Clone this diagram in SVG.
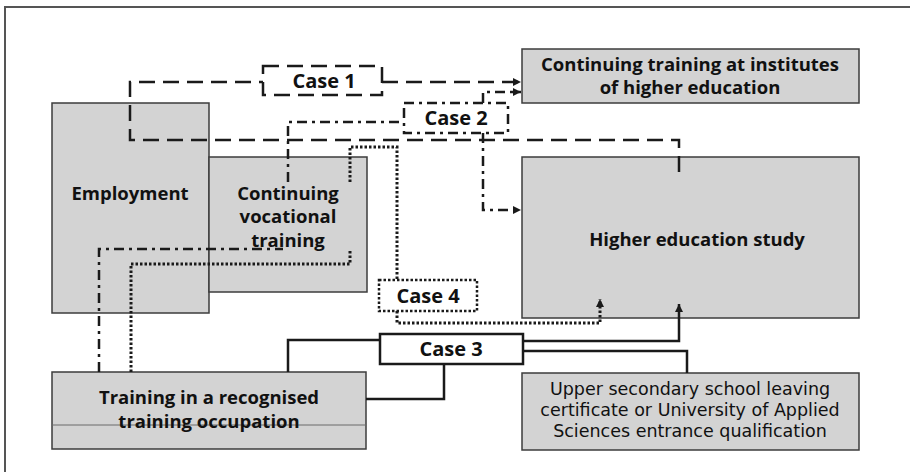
<svg xmlns="http://www.w3.org/2000/svg" width="910" height="472" viewBox="0 0 910 472">
  <style>
    .box { fill: #d3d3d3; stroke: #3c3c3c; stroke-width: 1.5; }
    .lbl { font-family: "Open Sans", "Noto Sans", "Liberation Sans", sans-serif; font-weight: bold; font-size: 18.5px; fill: #111; text-anchor: middle; }
    .reg { font-family: "DejaVu Sans", "Liberation Sans", sans-serif; font-size: 17.5px; fill: #111; text-anchor: middle; }
    .case { font-family: "Open Sans", "Noto Sans", "Liberation Sans", sans-serif; font-weight: bold; font-size: 20px; fill: #111; text-anchor: middle; }
    .ln { fill: none; stroke: #1a1a1a; stroke-width: 2.5; }
    .dash { stroke-dasharray: 16 8; }
    .dashdot { stroke-dasharray: 10 5 3 5; }
    .dot { stroke-dasharray: 2.5 2; stroke-width: 3; }
    .cbox { fill: #fff; stroke: #1a1a1a; stroke-width: 2.5; }
  </style>
  <defs>
    <marker id="arrow" markerUnits="userSpaceOnUse" markerWidth="9" markerHeight="8" refX="8" refY="4" orient="auto">
      <path d="M0,0 L8,4 L0,8 z" fill="#1a1a1a"/>
    </marker>
  </defs>

  <rect width="910" height="472" fill="#fff"/>
  <!-- frame -->
  <path d="M5,472 V7 H910" fill="none" stroke="#555" stroke-width="2"/>

  <!-- nodes -->
  <g id="employment">
    <rect class="box" x="52" y="103" width="157" height="210"/>
    <text class="lbl" x="130" y="200">Employment</text>
  </g>
  <g id="continuing-vocational">
    <rect class="box" x="209" y="157" width="158" height="135"/>
    <text class="lbl" x="288" y="200">Continuing</text>
    <text class="lbl" x="288" y="223">vocational</text>
    <text class="lbl" x="288" y="247">training</text>
  </g>
  <g id="continuing-higher">
    <rect class="box" x="522" y="49" width="337" height="54"/>
    <text class="lbl" x="690" y="71">Continuing training at institutes</text>
    <text class="lbl" x="690" y="94">of higher education</text>
  </g>
  <g id="higher-education">
    <rect class="box" x="522" y="157" width="337" height="161"/>
    <text class="lbl" x="697" y="246">Higher education study</text>
  </g>
  <g id="training-occupation">
    <rect class="box" x="52" y="372" width="314" height="77"/>
    <line x1="52" y1="425" x2="366" y2="425" stroke="#6a6a6a" stroke-width="1"/>
    <text class="lbl" x="209" y="404">Training in a recognised</text>
    <text class="lbl" x="209" y="428">training occupation</text>
  </g>
  <g id="school-leaving">
    <rect class="box" x="522" y="373" width="337" height="77"/>
    <text class="reg" x="690" y="395">Upper secondary school leaving</text>
    <text class="reg" x="690" y="416">certificate or University of Applied</text>
    <text class="reg" x="690" y="437">Sciences entrance qualification</text>
  </g>

  <!-- connectors -->
  <g id="connectors">
    <!-- case 1: dashed -->
    <path class="ln dash" d="M679,172 V140 H130 V82 H263"/>
    <path class="ln dash" d="M382,82 H521" marker-end="url(#arrow)"/>
    <!-- case 2: dash-dot -->
    <path class="ln dashdot" d="M288,182 V122 H404"/>
    <path class="ln dashdot" d="M483,103 V92 H521" marker-end="url(#arrow)"/>
    <path class="ln dashdot" d="M483,133 V210 H521" marker-end="url(#arrow)"/>
    <path class="ln dashdot" d="M99,372 V249 H283"/>
    <!-- case 4: dotted -->
    <path class="ln dot" d="M350,182 V147 H397 V280"/>
    <path class="ln dot" d="M397,311 V323 H600 V299" marker-end="url(#arrow)"/>
    <path class="ln dot" d="M131,372 V264 H350 V249"/>
    <!-- case 3: solid -->
    <path class="ln" d="M288,372 V340 H380"/>
    <path class="ln" d="M444,364 V399 H366"/>
    <path class="ln" d="M523,341 H679 V304" marker-end="url(#arrow)"/>
    <path class="ln" d="M523,351 H687 V373"/>
  </g>

  <!-- case labels -->
  <g id="case1">
    <rect class="cbox dash" x="263" y="66" width="119" height="29"/>
    <text class="case" x="324" y="88">Case 1</text>
  </g>
  <g id="case2">
    <rect class="cbox dashdot" x="404" y="103" width="104" height="30"/>
    <text class="case" x="456" y="125">Case 2</text>
  </g>
  <g id="case3">
    <rect class="cbox" x="380" y="334" width="143" height="30"/>
    <text class="case" x="451" y="356">Case 3</text>
  </g>
  <g id="case4">
    <rect class="cbox dot" x="379" y="280" width="98" height="31"/>
    <text class="case" x="428" y="303">Case 4</text>
  </g>
</svg>
